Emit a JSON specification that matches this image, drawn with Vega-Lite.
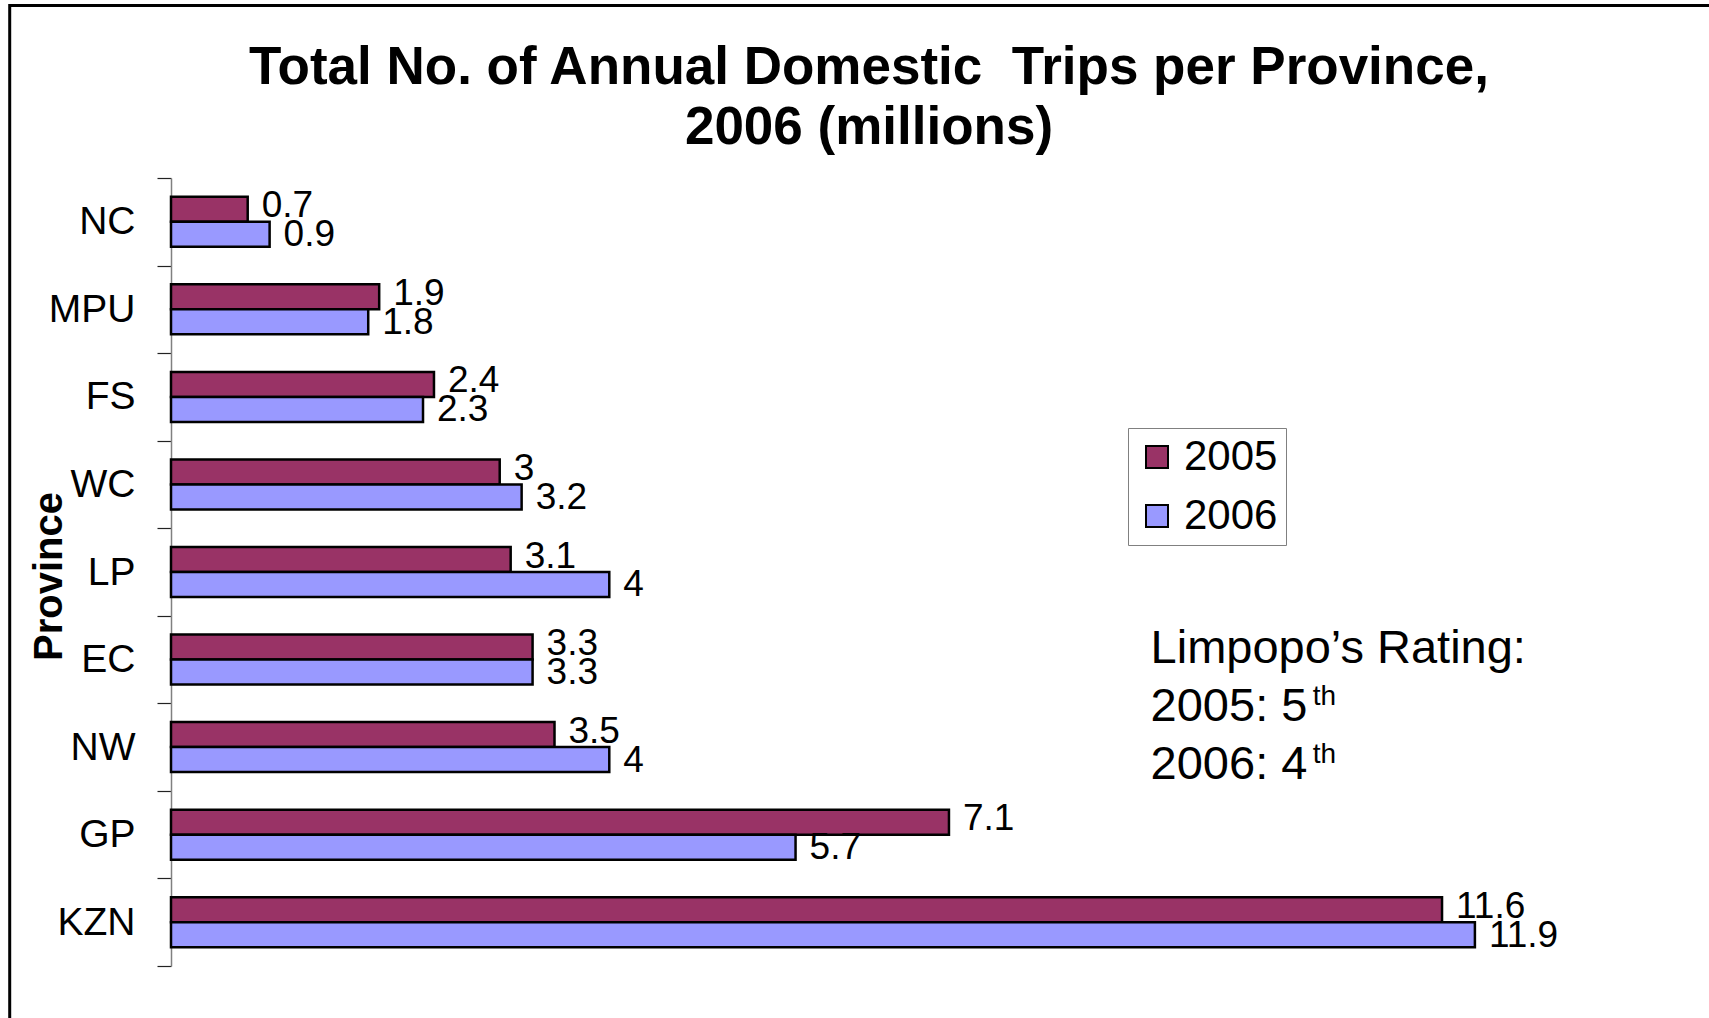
{
  "$schema": "https://vega.github.io/schema/vega-lite/v6.json",
  "autosize": {"type": "none"},
  "padding": {"left": 171, "top": 178, "right": 4, "bottom": 52},
  "width": 1534,
  "height": 788,
  "background": "white",
  "config": {"view": {"stroke": null}, "font": "Liberation Sans"},
  "title": {
    "text": ["Total No. of Annual Domestic \u00a0Trips per Province,", "2006 (millions)"],
    "fontSize": 53,
    "fontWeight": "bold",
    "font": "Liberation Sans",
    "color": "black",
    "anchor": "middle",
    "frame": "group",
    "dx": -69,
    "lineHeight": 60,
    "offset": -151
  },
  "data": {
    "values": [
      {"province": "NC", "year": "2005", "trips": 0.7},
      {"province": "NC", "year": "2006", "trips": 0.9},
      {"province": "MPU", "year": "2005", "trips": 1.9},
      {"province": "MPU", "year": "2006", "trips": 1.8},
      {"province": "FS", "year": "2005", "trips": 2.4},
      {"province": "FS", "year": "2006", "trips": 2.3},
      {"province": "WC", "year": "2005", "trips": 3},
      {"province": "WC", "year": "2006", "trips": 3.2},
      {"province": "LP", "year": "2005", "trips": 3.1},
      {"province": "LP", "year": "2006", "trips": 4},
      {"province": "EC", "year": "2005", "trips": 3.3},
      {"province": "EC", "year": "2006", "trips": 3.3},
      {"province": "NW", "year": "2005", "trips": 3.5},
      {"province": "NW", "year": "2006", "trips": 4},
      {"province": "GP", "year": "2005", "trips": 7.1},
      {"province": "GP", "year": "2006", "trips": 5.7},
      {"province": "KZN", "year": "2005", "trips": 11.6},
      {"province": "KZN", "year": "2006", "trips": 11.9}
    ]
  },
  "resolve": {"scale": {"y": "independent"}},
  "layer": [
    {
      "encoding": {
        "y": {
          "field": "province",
          "type": "nominal",
          "sort": null,
          "scale": {"paddingInner": 0, "paddingOuter": 0},
          "axis": {
            "title": "Province",
            "titleFont": "Liberation Sans",
            "titleFontSize": 40,
            "titleFontWeight": "bold",
            "titleColor": "black",
            "titleAngle": -90,
            "titleBaseline": "alphabetic",
            "titleAlign": "center",
            "titleX": -110,
            "titleY": 398,
            "labelFont": "Liberation Sans",
            "labelFontSize": 39,
            "labelColor": "black",
            "labelPadding": 22,
            "tickSize": 14,
            "tickColor": "#222222",
            "tickWidth": 1.2,
            "domainColor": "#808080",
            "domainWidth": 1.5,
            "tickBand": "extent",
            "grid": false
          }
        },
        "yOffset": {
          "field": "year",
          "type": "nominal",
          "scale": {"paddingInner": 0, "paddingOuter": 0.752}
        }
      },
      "layer": [
        {
          "mark": {"type": "bar", "stroke": "black", "strokeWidth": 2.5},
          "encoding": {
            "x": {
              "field": "trips",
              "type": "quantitative",
              "scale": {"domain": [0, 14], "nice": false},
              "axis": null
            },
            "color": {
              "field": "year",
              "type": "nominal",
              "scale": {"domain": ["2005", "2006"], "range": ["#993366", "#9999FF"]},
              "legend": {
                "title": null,
                "orient": "none",
                "legendX": 957,
                "legendY": 250,
                "direction": "vertical",
                "symbolType": "square",
                "symbolSize": 484,
                "symbolStrokeColor": "black",
                "symbolStrokeWidth": 2,
                "symbolOpacity": 1,
                "labelFont": "Liberation Sans",
                "labelFontSize": 42,
                "labelColor": "black",
                "labelOffset": 6,
                "padding": 8,
                "rowPadding": 17,
                "strokeColor": "#808080",
                "fillColor": "white"
              }
            }
          }
        },
        {
          "transform": [{"filter": "datum.year == '2005'"}],
          "mark": {"type": "text", "align": "left", "baseline": "middle", "dx": 14, "dy": -3, "fontSize": 37, "font": "Liberation Sans", "color": "black"},
          "encoding": {
            "x": {"field": "trips", "type": "quantitative", "scale": {"domain": [0, 14], "nice": false}},
            "text": {"field": "trips", "type": "quantitative", "format": ".1~f"}
          }
        },
        {
          "transform": [{"filter": "datum.year == '2006'"}],
          "mark": {"type": "text", "align": "left", "baseline": "middle", "dx": 14, "dy": 1, "fontSize": 37, "font": "Liberation Sans", "color": "black"},
          "encoding": {
            "x": {"field": "trips", "type": "quantitative", "scale": {"domain": [0, 14], "nice": false}},
            "text": {"field": "trips", "type": "quantitative", "format": ".1~f"}
          }
        },
        {
          "data": {"values": [{"note": ["Limpopo’s Rating:", "2005: 5", "2006: 4"]}]},
          "mark": {"type": "text", "align": "left", "baseline": "alphabetic", "dy": 3, "fontSize": 47, "lineHeight": 58, "font": "Liberation Sans", "color": "black"},
          "encoding": {
            "x": {"datum": 8.94, "type": "quantitative", "scale": {"domain": [0, 14], "nice": false}},
            "y": {"datum": "EC", "type": "nominal"},
            "yOffset": null,
            "text": {"field": "note"}
          }
        },
        {
          "data": {"values": [{"sup": ["th", "th"]}]},
          "mark": {"type": "text", "align": "left", "baseline": "alphabetic", "dy": 45, "fontSize": 28, "lineHeight": 58, "font": "Liberation Sans", "color": "black"},
          "encoding": {
            "x": {"datum": 10.42, "type": "quantitative", "scale": {"domain": [0, 14], "nice": false}},
            "y": {"datum": "EC", "type": "nominal"},
            "yOffset": null,
            "text": {"field": "sup"}
          }
        }
      ]
    },
    {
      "data": {"values": [{"frame": "border"}]},
      "mark": {"type": "rect", "fillOpacity": 0, "stroke": "black", "strokeWidth": 3},
      "encoding": {
        "x": {"datum": -1.472, "type": "quantitative", "scale": {"domain": [0, 14], "nice": false}},
        "x2": {"datum": 14.6},
        "y": {"datum": 1.2189, "type": "quantitative", "scale": {"domain": [0, 1], "nice": false, "zero": false}, "axis": null},
        "y2": {"datum": -0.2}
      }
    }
  ]
}
